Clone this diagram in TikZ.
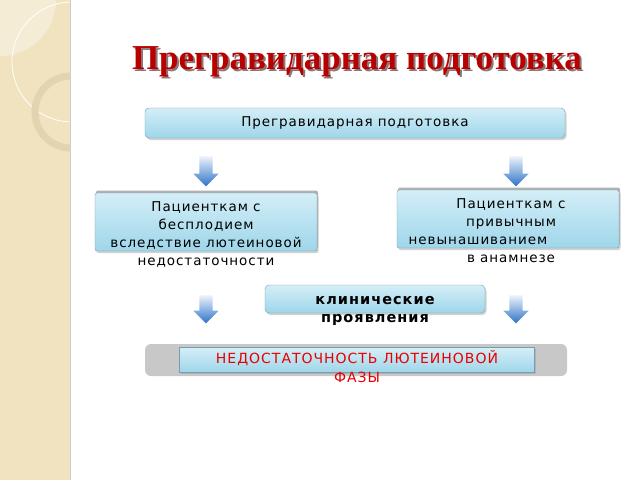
\documentclass[tikz,border=0pt]{standalone}
\usepackage{fontspec}
\setmainfont{DejaVu Sans}
\newfontfamily\titlefont{Liberation Serif}
\usepackage{xcolor}
\usepackage{tikz}
\usetikzlibrary{shapes.arrows, positioning, shadows}

\definecolor{stripbeige}{RGB}{241,227,192}
\definecolor{stripring}{RGB}{226,212,176}
\definecolor{titlered}{RGB}{185,0,0}
\definecolor{titleshade}{RGB}{90,60,60}
\definecolor{boxtop}{RGB}{212,238,247}
\definecolor{boxbottom}{RGB}{158,214,234}
\definecolor{boxline}{RGB}{118,158,178}
\definecolor{arrowtop}{RGB}{236,242,250}
\definecolor{arrowbottom}{RGB}{45,115,200}
\definecolor{bargrey}{RGB}{200,200,200}
\definecolor{lpdred}{RGB}{232,0,0}

\newcommand{\shadedtitle}[1]{\rlap{\kern2pt\raisebox{-2pt}{\textcolor{titleshade!70}{#1}}}\textcolor{titlered}{#1}}

\begin{document}
\begin{tikzpicture}[
    x=1pt, y=-1pt,
    box/.style={rectangle, draw=boxline, top color=boxtop, bottom color=boxbottom, rounded corners=4pt, drop shadow={opacity=0.35, shadow xshift=1.5pt, shadow yshift=-2pt}},
    framedbox/.style={box, rounded corners=2pt, general shadow={fill=gray!60, shadow xshift=1pt, shadow yshift=2.5pt}},
    boxtext/.style={align=center, font=\fontsize{13.5}{18}\selectfont\addfontfeatures{LetterSpace=7}},
    arrowdown/.style={single arrow, shape border rotate=270, minimum height=30pt, minimum width=25pt, inner sep=6.5pt, single arrow head extend=6pt, single arrow head indent=0pt, top color=arrowtop, bottom color=arrowbottom, draw=none}
]
    % Page and left strip
    \useasboundingbox (0,0) rectangle (640,480);
    \fill[white] (0,0) rectangle (640,480);
    \fill[stripbeige] (0,0) rectangle (70,480);
    \begin{scope}
        \clip (0,0) rectangle (70,480);
        \fill[white, opacity=0.35] (0,0) circle (56);
        \draw[white, line width=0.8pt] (72,62) circle (60);
        \draw[stripring, line width=7pt] (71,112) circle (36);
    \end{scope}
    \draw[gray!40] (70,0) -- (70,480);

    % Title
    \node[font=\titlefont\bfseries\fontsize{35}{42}\selectfont] (title) at (357,63) {\shadedtitle{Прегравидарная подготовка}};

    % Top box
    \node[box, minimum width=420pt, minimum height=30pt, boxtext] (prep) at (355,123) {Прегравидарная подготовка};

    % Arrows to the two groups
    \node[arrowdown] (arrowinfert) at (206,168) {};
    \node[arrowdown] (arrowmiscar) at (516,168) {};

    % Two groups of patients
    \node[framedbox, minimum width=222pt, minimum height=58pt] (infert) at (206,222) {};
    \node[boxtext] (inferttxt) at (206,235) {Пациенткам с\\бесплодием\\вследствие лютеиновой\\недостаточности};

    \node[framedbox, minimum width=222pt, minimum height=58pt] (miscar) at (508,219) {};
    \node[boxtext] (miscartxt) at (511,231) {Пациенткам с\\привычным\\невынашиванием\rule{66pt}{0pt}\\в анамнезе};

    % Clinical signs
    \node[box, minimum width=220pt, minimum height=28pt] (clin) at (375,299) {};
    \node[boxtext, font=\bfseries\fontsize{14.5}{18}\selectfont\addfontfeatures{LetterSpace=7}] (clintxt) at (375,311) {клинические\\проявления};

    \node[arrowdown, minimum height=28pt] (arrowlpdl) at (206,306) {};
    \node[arrowdown, minimum height=28pt] (arrowlpdr) at (516,306) {};

    % Result
    \node[rectangle, fill=bargrey, rounded corners=6pt, minimum width=422pt, minimum height=32pt] (bar) at (356,360) {};
    \node[rectangle, draw=boxline, top color=boxtop, bottom color=boxbottom, minimum width=355pt, minimum height=25pt, drop shadow={opacity=0.3, shadow xshift=1pt, shadow yshift=-1.5pt}] (lpd) at (357,360) {};
    \node[boxtext, font=\fontsize{14}{19}\selectfont\addfontfeatures{LetterSpace=7}, text=lpdred] (lpdtxt) at (357,367) {НЕДОСТАТОЧНОСТЬ ЛЮТЕИНОВОЙ\\ФАЗЫ};

\end{tikzpicture}
\end{document}
